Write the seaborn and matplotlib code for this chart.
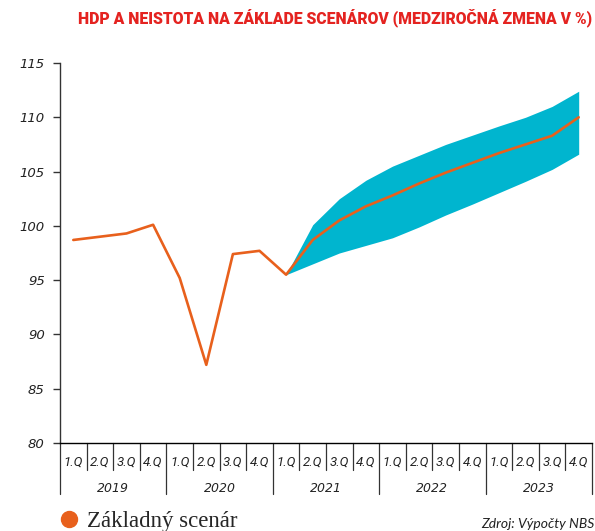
import matplotlib
matplotlib.use("Agg")
import pandas as pd
import seaborn as sns
import matplotlib.pyplot as plt
from matplotlib.lines import Line2D

sns.set_style("white")
plt.rcParams["font.family"] = ["DejaVu Sans"]
plt.rcParams["axes.edgecolor"] = "#333333"
plt.rcParams["axes.linewidth"] = 1

# data
years = ["2019", "2020", "2021", "2022", "2023"]
quarters = ["1.Q", "2.Q", "3.Q", "4.Q"]
gdp = [98.7, 99.0, 99.3, 100.1, 95.2, 87.2, 97.4, 97.7,
       95.5, 98.7, 100.5, 101.8, 102.8, 103.9, 104.9, 105.8,
       106.7, 107.5, 108.3, 110.0]
band_upper = [95.5, 100.1, 102.5, 104.2, 105.5, 106.5, 107.5, 108.35,
              109.2, 110.0, 111.0, 112.4]
band_lower = [95.5, 96.5, 97.5, 98.2, 98.9, 99.9, 101.0, 102.0,
              103.05, 104.1, 105.2, 106.6]
yticks = [80, 85, 90, 95, 100, 105, 110, 115]

orange = "#e8601c"
cyan = "#00b5cf"

df = pd.DataFrame({"idx": range(len(gdp)), "gdp": gdp})
band_start = len(gdp) - len(band_upper)
band_x = list(range(band_start, len(gdp)))

fig = plt.figure(figsize=(5.95, 5.31), dpi=100)
ax = fig.add_axes([60 / 595, 88 / 531, 532 / 595, 380 / 531])

ax.fill_between(band_x, band_lower, band_upper, color=cyan, lw=0, zorder=1)
sns.lineplot(data=df, x="idx", y="gdp", color=orange, lw=1.9, ax=ax, zorder=3)

ax.set_xlim(-0.5, len(gdp) - 0.5)
ax.set_ylim(80, 115)
ax.set_yticks(yticks)
ax.set_yticklabels([str(t) for t in yticks], fontstyle="italic", fontsize=9.5, color="#222222")
ax.tick_params(axis="y", left=True, length=5, width=1, color="#333333", pad=6)
ax.set_xticks([])
ax.set_xlabel("")
ax.set_ylabel("")
sns.despine(ax=ax, top=True, right=True)
ax.spines["bottom"].set_color("black")

# two-level category axis
trans = ax.get_xaxis_transform()
n = len(gdp)
for i in range(n):
    ax.text(i, -0.049, quarters[i % 4], transform=trans, ha="center", va="center",
            fontsize=9.5, fontstyle="italic", family="Roboto", color="#222222")
for i in range(n + 1):
    low = -0.134 if i % 4 == 0 else -0.07
    ax.plot([i - 0.5, i - 0.5], [0, low], transform=trans, color="#333333",
            lw=0.9, clip_on=False)
for k, yr in enumerate(years):
    ax.text(4 * k + 1.5, -0.12, yr, transform=trans, ha="center", va="center",
            fontsize=9, fontstyle="italic", color="#222222")

fig.text(592 / 595, 1 - 18 / 531, "HDP A NEISTOTA NA ZÁKLADE SCENÁROV (MEDZIROČNÁ ZMENA V %)",
         ha="right", va="center", fontsize=11.3, fontweight="black", family="Roboto",
         color="#e42320")

handle = Line2D([], [], marker="o", ls="", color=orange, markersize=11.5)
fig.legend([handle], ["Základný scenár"], loc="center left",
           bbox_to_anchor=(46 / 595, 1 - 521 / 531), frameon=False,
           handletextpad=0.2, borderaxespad=0, handlelength=1.2,
           prop={"family": "Liberation Serif", "size": 16.5})

fig.text(594 / 595, 1 - 524 / 531, "Zdroj: Výpočty NBS", ha="right", va="center",
         fontsize=10, fontstyle="italic", family="Lato", color="#222222")

fig.savefig("out.png", dpi=100)
